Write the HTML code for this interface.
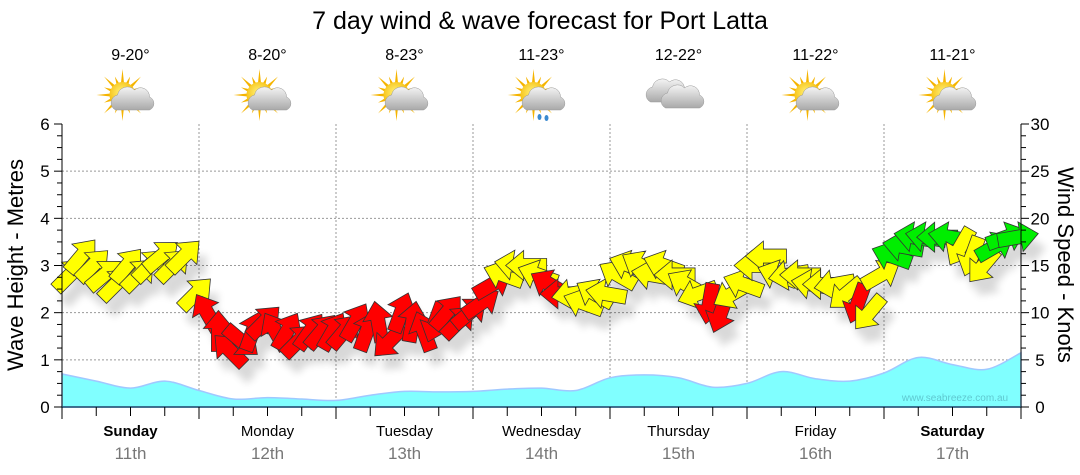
<!DOCTYPE html>
<html><head><meta charset="utf-8"><style>
body{margin:0;background:#fff;}
svg{display:block;font-family:"Liberation Sans",sans-serif;}
</style></head><body>
<svg id="chart" width="1080" height="475" viewBox="0 0 1080 475">
<defs>
<radialGradient id="sunG" cx="45%" cy="40%" r="60%"><stop offset="0" stop-color="#fff27a"/><stop offset="1" stop-color="#f5b800"/></radialGradient>
<linearGradient id="cloudG" x1="0" y1="0" x2="0" y2="1"><stop offset="0" stop-color="#f4f4f4"/><stop offset="1" stop-color="#a9a9a9"/></linearGradient>
<filter id="shadow" x="-50%" y="-50%" width="200%" height="200%"><feGaussianBlur stdDeviation="4"/></filter>
</defs>
<text x="540" y="29" text-anchor="middle" font-size="25" fill="#000">7 day wind &amp; wave forecast for Port Latta</text>
<g id="grid"></g>
<g id="wave"></g>
<g id="shadows" opacity="0.15" filter="url(#shadow)"></g>
<g id="arrows"></g>
<g id="axes"></g>
<g id="days"></g>
<g id="icons"></g>
<text transform="translate(23,265) rotate(-90)" text-anchor="middle" font-size="22">Wave Height - Metres</text>
<text transform="translate(1058,265) rotate(90)" text-anchor="middle" font-size="22">Wind Speed - Knots</text>
<text x="955" y="401" text-anchor="middle" font-size="10" fill="#5fc8d0">www.seabreeze.com.au</text>
</svg>
<script>
const dayNames=["Sunday","Monday","Tuesday","Wednesday","Thursday","Friday","Saturday"];
const dayDates=["11th","12th","13th","14th","15th","16th","17th"];
const dayBold=[true,false,false,false,false,false,true];
const temps=["9-20°","8-20°","8-23°","11-23°","12-22°","11-22°","11-21°"];
const iconTypes=["suncloud","suncloud","suncloud","rain","cloud","suncloud","suncloud"];
const waveTicks=[0,1,2,3,4,5,6];
const windTicks=[0,5,10,15,20,25,30];
// wave height, 6-hourly (metres)
const waveHeights=[0.70,0.55,0.40,0.55,0.35,0.17,0.20,0.17,0.14,0.25,0.33,0.32,0.33,0.38,0.40,0.35,0.62,0.68,0.62,0.42,0.50,0.75,0.60,0.55,0.72,1.05,0.90,0.80,1.15];
// wind 2-hourly
const windSpeeds=[14,16,15,14,13,15,14,15,16,15,16,12,
10,8,6,7,8,9,8,8,7,8,8,8,
8,9,8,9,7,10,9,8,9,10,9,10,
11,13,14,15,15,14,13,12,12,11,12,12,
14,15,15,14,15,14,13,12,11,10,12,13,
15,16,14,14,14,13,13,13,12,11,10,14,
16,17,18,18,18,18,17,16,15,17,18,18];
const windDirs=[45,40,45,50,45,40,45,45,50,45,45,45,
330,0,315,130,20,45,330,30,45,35,40,30,
40,30,20,350,225,20,10,340,200,40,45,50,
55,60,290,280,270,290,300,270,260,290,300,280,
300,290,300,280,290,270,300,250,190,200,240,290,
270,270,290,260,270,280,270,260,230,200,220,60,
290,280,280,280,270,280,210,200,220,60,70,80];
const windColors="yyyyyyyyyyyy"+"rrrrrrrrrrrr"+"rrrrrrrrrrrr"+"rryyyyrryyyy"+"yyyyyyyyrryy"+"yyyyyyyyyryy"+"ggggggyyyggg";

const NS="http://www.w3.org/2000/svg";
const X0=62,X1=1021,Y0=407,Y1=124,DAYW=(X1-X0)/7;
const yWave=v=>Y0-(Y0-Y1)*v/6;
const yWind=v=>Y0-(Y0-Y1)*v/30;
const xHour=h=>X0+DAYW*h/24;
function mk(tag,attrs,parent){const e=document.createElementNS(NS,tag);for(const k in attrs)e.setAttribute(k,attrs[k]);parent.appendChild(e);return e;}
const grid=document.getElementById('grid'),axes=document.getElementById('axes');
for(let i=1;i<=5;i++){const l=mk('line',{x1:X0,x2:X1,y1:yWave(i),y2:yWave(i),stroke:'#999','stroke-dasharray':'2,2','stroke-width':1},grid);

}
for(let d=1;d<7;d++){const x=X0+d*DAYW;const l=mk('line',{x1:x,x2:x,y1:Y1,y2:Y0,stroke:'#999','stroke-dasharray':'2,2','stroke-width':1},grid);

}
// wave area (smooth)
const wp=waveHeights.map((v,i)=>[xHour(i*6),yWave(v)]);
let pts=`M${X0},${Y0} L${wp[0][0]},${wp[0][1]}`;
for(let i=0;i<wp.length-1;i++){const p0=wp[Math.max(0,i-1)],p1=wp[i],p2=wp[i+1],p3=wp[Math.min(wp.length-1,i+2)];
 const c1=[p1[0]+(p2[0]-p0[0])/6,p1[1]+(p2[1]-p0[1])/6],c2=[p2[0]-(p3[0]-p1[0])/6,p2[1]-(p3[1]-p1[1])/6];
 pts+=` C${c1[0].toFixed(1)},${c1[1].toFixed(1)} ${c2[0].toFixed(1)},${c2[1].toFixed(1)} ${p2[0].toFixed(1)},${p2[1].toFixed(1)}`;}
pts+=` L${X1},${Y0} Z`;
const wa=mk('path',{d:pts,fill:'#80ffff',stroke:'#a0c8ff','stroke-width':1.5},document.getElementById('wave'));


// arrows
const AR="-7,20 7,20 7,-3 15,-3 0,-21 -15,-3 -7,-3";
const colMap={y:'#ffff00',r:'#ff0000',g:'#00ee00'};
const sh=document.getElementById('shadows'),ag=document.getElementById('arrows');
windSpeeds.forEach((s,i)=>{
 const x=xHour(i*2)+8,y=yWind(s);
 const p0=mk('polygon',{points:AR,fill:'#000',transform:`translate(${x+8},${y+14}) rotate(${windDirs[i]})`},sh);
 
 
 const p=mk('polygon',{points:AR,fill:colMap[windColors[i]],stroke:'#333','stroke-width':0.8,transform:`translate(${x},${y}) rotate(${windDirs[i]})`},ag);
 
 
});
// axes
mk('line',{x1:X0,x2:X0,y1:Y1,y2:Y0,stroke:'#000'},axes);
mk('line',{x1:X1,x2:X1,y1:Y1,y2:Y0,stroke:'#000'},axes);
mk('line',{x1:X0,x2:X1,y1:Y0,y2:Y0,stroke:'#1a4a6a','stroke-width':1.5},axes);
for(let v=0;v<=6;v+=0.25){mk('line',{x1:X0-(v%1===0?8:5),x2:X0,y1:yWave(v),y2:yWave(v),stroke:'#000'},axes);}
waveTicks.forEach(v=>{const t=mk('text',{x:45,y:yWave(v)+6,'text-anchor':'middle','font-size':17},axes);t.textContent=v;

});
for(let v=0;v<=30;v+=1.25){mk('line',{x1:X1,x2:X1+(v%5===0?8:5),y1:yWind(v),y2:yWind(v),stroke:'#000'},axes);}
windTicks.forEach(v=>{const t=mk('text',{x:1040,y:yWind(v)+6,'text-anchor':'middle','font-size':17},axes);t.textContent=v;

});
for(let h=0;h<=168;h+=6){mk('line',{x1:xHour(h),x2:xHour(h),y1:Y0,y2:Y0+(h%24===0?12:9),stroke:'#000'},axes);}
// days & icons
const days=document.getElementById('days'),icons=document.getElementById('icons');
function sun(g,cx,cy){for(let k=0;k<16;k++){const a=k*Math.PI/8,r=k%2?20:26;
 mk('polygon',{points:`${cx+Math.cos(a)*r},${cy+Math.sin(a)*r} ${cx+Math.cos(a+0.15)*11},${cy+Math.sin(a+0.15)*11} ${cx+Math.cos(a-0.15)*11},${cy+Math.sin(a-0.15)*11}`,fill:'#f5b400'},g);}
 mk('circle',{cx,cy,r:13,fill:'url(#sunG)'},g);}
function cloud(g,cx,cy,s){mk('path',{d:`M${cx-16*s},${cy+9*s} a8,8 0 0 1 2,-15 a10,10 0 0 1 17,-5 a9,9 0 0 1 15,7 a7,7 0 0 1 0,13 z`,fill:'url(#cloudG)',stroke:'#999','stroke-width':0.5},g);}
for(let d=0;d<7;d++){
 const cx=X0+DAYW*(d+0.5);
 const t1=mk('text',{x:cx,y:436,'text-anchor':'middle','font-size':15,'font-weight':dayBold[d]?'bold':'normal'},days);t1.textContent=dayNames[d];
 
 
 const t2=mk('text',{x:cx,y:459,'text-anchor':'middle','font-size':17,fill:'#777'},days);t2.textContent=dayDates[d];
 
 
 const t3=mk('text',{x:cx,y:60,'text-anchor':'middle','font-size':16},days);t3.textContent=temps[d];
 
 
 const g=mk('g',{},icons);
 
 
 if(iconTypes[d]==='cloud'){cloud(g,cx-12,93,1);cloud(g,cx+3,99,1);}
 else{sun(g,cx-8,95);cloud(g,cx+1,101,1);
  if(iconTypes[d]==='rain'){mk('ellipse',{cx:cx-2,cy:117,rx:2,ry:3,fill:'#3a8ad0'},g);mk('ellipse',{cx:cx+5,cy:118,rx:2,ry:3,fill:'#3a8ad0'},g);}}
}
</script>
</body></html>
